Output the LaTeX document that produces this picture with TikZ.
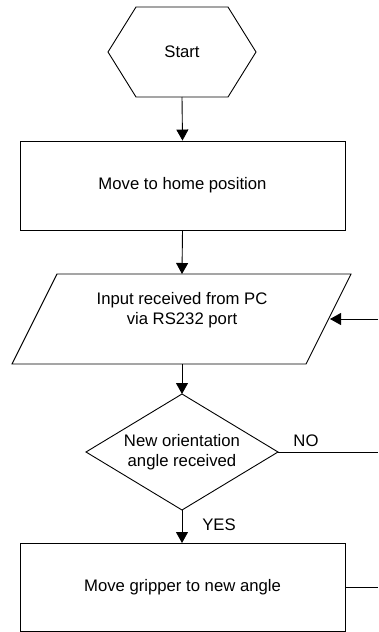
\documentclass[tikz,border=0pt]{standalone}
\usepackage{fontspec}
\setmainfont{Liberation Sans}
\usetikzlibrary{arrows.meta}
\begin{document}
\begin{tikzpicture}[x=1pt,y=-1pt,
  lbl/.style={font=\fontsize{16.7}{20}\selectfont, align=center, inner sep=0pt},
  shapebox/.style={draw, line width=0.9pt, minimum width=325pt, lbl},
  hold/.style={inner sep=0pt, outer sep=0pt},
  flow/.style={line width=0.9pt, -{Triangle[width=12pt,length=11pt]}},
  plain/.style={line width=0.9pt}]
\useasboundingbox (0,0) rectangle (378,632);
% Start hexagon
\node[hold, minimum width=148pt, minimum height=90pt] (start) at (182,52) {};
\draw[plain] (start.west) -- ([xshift=28pt]start.north west) -- ([xshift=-28pt]start.north east)
  -- (start.east) -- ([xshift=-28pt]start.south east) -- ([xshift=28pt]start.south west) -- cycle;
\node[lbl] at (start.center) {Start};
% Home
\node[shapebox, minimum height=89pt] (home) at (182.5,185.5) {Move to home position};
% Input parallelogram
\node[hold, minimum width=339pt, minimum height=90pt] (input) at (181.5,319) {};
\draw[plain] ([xshift=45pt]input.north west) -- (input.north east) -- ([xshift=-45pt]input.south east)
  -- (input.south west) -- cycle;
\node[lbl] at (182,310) {Input received from PC\\via RS232 port};
\coordinate (inR) at (330,319);
\coordinate (inFree) at (378,319);
% Decision diamond
\node[hold, minimum width=192pt, minimum height=116pt] (dec) at (182,452) {};
\draw[plain] (dec.north) -- (dec.east) -- (dec.south) -- (dec.west) -- cycle;
\node[lbl] at (dec.center) {New orientation\\angle received};
\coordinate (noFree) at (378,452);
% Gripper
\node[shapebox, minimum height=88pt] (grip) at (182.5,587) {Move gripper to new angle};
\coordinate (gripFree) at (378,587);
% connectors
\draw[flow] (start.south) -- (home.north);
\draw[flow] (home.south) -- (182,274);
\draw[flow] (182,364) -- (dec.north);
\draw[flow] (dec.south) -- (182,543);
\draw[flow] (inFree) -- (inR);
\draw[plain] (dec.east) -- (noFree);
\draw[plain] (grip.east) -- (gripFree);
\node[lbl] at (306,441) {NO};
\node[lbl] at (219,525) {YES};
\end{tikzpicture}
\end{document}
